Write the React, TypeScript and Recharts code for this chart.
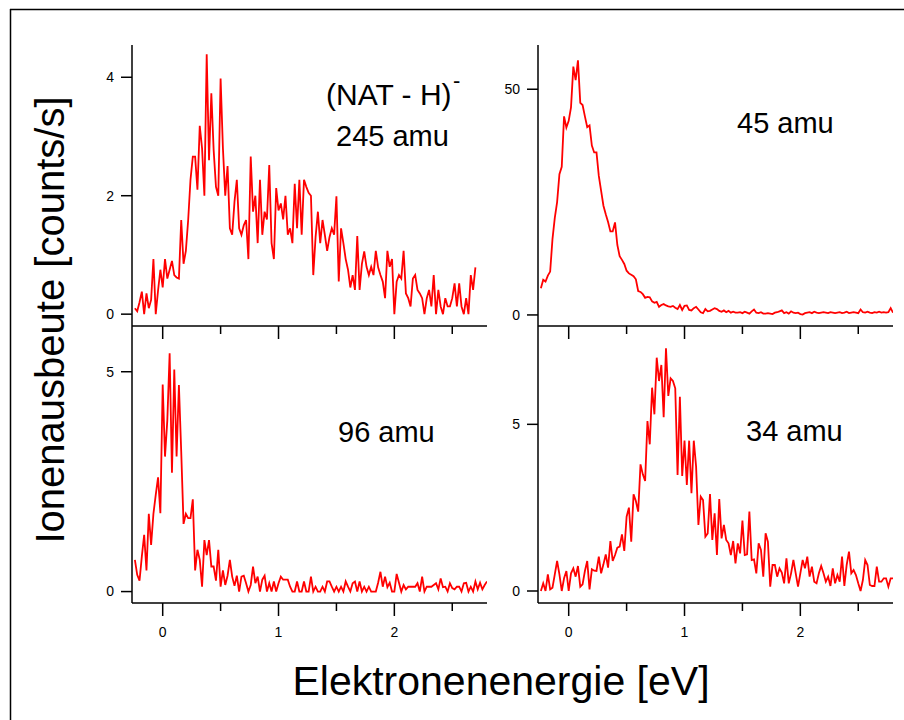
import React from "react";
import { LineChart, Line, XAxis, YAxis } from "recharts";

// electron energy grid (eV), 0.02 eV steps from -0.24 to 2.80
const ENERGY = Array.from({ length: 153 }, (_, i) => Math.round((-0.24 + 0.02 * i) * 100) / 100);

// (NAT - H)- 245 amu, counts/s (scan ends at 2.70 eV)
const NAT_245 = [
  0.1, 0.05, 0.2, 0.38, 0, 0.35, 0.1, 0.24, 0.93, 0,
  0.4, 0.75, 0.45, 0.93, 0.6, 0.75, 0.9, 0.66, 0.62, 0.6,
  1.59, 0.85, 1.07, 1.59, 2.27, 2.66, 2.66, 2.1, 3.18, 2.8,
  2.0, 4.39, 2.6, 3.73, 2.77, 2.15, 2.0, 3.98, 2.8, 2.0,
  2.5, 1.45, 1.34, 1.9, 2.27, 1.45, 1.34, 1.5, 1.59, 0.93,
  2.66, 1.73, 2.0, 1.2, 2.27, 1.34, 1.73, 1.6, 2.52, 1.2,
  0.93, 2.13, 1.75, 1.87, 1.6, 2.0, 1.34, 1.45, 1.2, 2.2,
  1.45, 2.27, 1.34, 2.27, 2.15, 2.05, 2.0, 0.66, 1.3, 1.73,
  1.2, 1.59, 1.34, 1.07, 1.3, 1.45, 1.34, 1.99, 0.55, 1.45,
  1.2, 0.93, 0.75, 0.45, 0.66, 0.41, 1.32, 0.41, 0.85, 1.06,
  0.8, 0.66, 0.8, 0.66, 1.07, 0.79, 0.66, 0.55, 0.27, 1.07,
  0.8, 0.93, 0, 0.55, 0.66, 0.6, 1.07, 0.35, 0.27, 0.13,
  0.6, 0.66, 0.41, 0.35, 0.27, 0, 0.27, 0.41, 0.13, 0.66,
  0, 0.41, 0.13, 0, 0.27, 0.13, 0.13, 0.27, 0.52, 0.13,
  0.52, 0.13, 0, 0.27, 0, 0.66, 0.41, 0.79,
];

// 45 amu
const AMU_45 = [
  5.9, 7.8, 7.4, 8.7, 9.6, 16.8, 21.5, 25, 31.2, 32.8,
  44, 41.5, 43, 46, 55, 52, 56.4, 47, 46.5, 44,
  41.6, 42, 37.5, 36, 36, 30.8, 27.5, 24.2, 22.3, 20.6,
  18.5, 18.5, 20.5, 15.5, 13, 12.2, 11.3, 9.8, 9.2, 8.9,
  8.6, 7.9, 5.3, 5.1, 4.6, 3.8, 4, 3.9, 3, 2.7,
  2.9, 1.8, 2.2, 2.4, 2.1, 1.9, 1.8, 2, 1.6, 1.3,
  2.2, 1.1, 2, 2.1, 1.1, 1, 1.5, 1.8, 1.2, 0.6,
  0.4, 1.3, 0.8, 0.9, 1.2, 1.5, 1.3, 0.9, 0.7, 1,
  0.6, 0.9, 0.5, 0.7, 0.5, 0.5, 0.6, 0.4, 0.7, 0.5,
  0.3, 0.8, 1.2, 0.5, 0.4, 0.6, 0.3, 0.3, 0.4, 0.3,
  0.2, 0.5, 0.6, 0.8, 1, 0.4, 0.6, 0.3, 0.8, 0.5,
  0.4, 0.5, 0.2, 0.1, 0.4, 0.5, 0.6, 0.4, 0.7, 0.5,
  0.4, 0.5, 0.6, 0.5, 0.4, 0.6, 0.5, 0.4, 0.5, 0.6,
  0.4, 0.5, 0.7, 0.4, 0.5, 0.6, 0.5, 0.4, 1.2, 0.6,
  0.5, 0.7, 0.5, 0.4, 0.6, 0.5, 0.7, 0.5, 0.6, 0.5,
  0.6, 1.5, 0.5,
];

// 96 amu
const AMU_96 = [
  0.72, 0.38, 0.25, 0.8, 1.29, 0.48, 1.77, 1.06, 1.77, 2.2,
  2.6, 1.78, 4.71, 3.07, 3.9, 5.42, 2.7, 5.05, 3.07, 4.7,
  3.18, 1.54, 1.77, 1.67, 1.67, 2.1, 0.48, 0.95, 0.72, 0.11,
  1.17, 0.83, 1.17, 0.57, 0.57, 0.25, 0.95, 0.11, 0.48, 0.15,
  0.36, 0.72, 0.34, 0.13, 0.36, 0, 0.34, 0.36, 0.19, 0,
  0.15, 0.57, 0.19, 0.34, 0, 0.27, 0.36, 0, 0.19, 0,
  0.23, 0, 0.19, 0.34, 0.27, 0.27, 0.27, 0.11, 0, 0,
  0.23, 0, 0, 0.23, 0, 0, 0.34, 0, 0.11, 0,
  0, 0.11, 0, 0.23, 0.23, 0.11, 0, 0.11, 0, 0.11,
  0, 0.23, 0.11, 0, 0.19, 0.23, 0, 0.23, 0, 0.11,
  0, 0.11, 0, 0, 0, 0.2, 0.45, 0.11, 0.34, 0.1,
  0.2, 0, 0, 0.4, 0.2, 0, 0.15, 0.05, 0.11, 0.11,
  0.11, 0.11, 0.19, 0, 0.34, 0, 0.11, 0.11, 0.11, 0.15,
  0.19, 0.05, 0.3, 0.1, 0.11, 0, 0.19, 0.08, 0.05, 0.11,
  0.11, 0, 0.19, 0.2, 0, 0.11, 0, 0.23, 0.05, 0.2,
  0.05, 0.15, 0.23,
];

// 34 amu
const AMU_34 = [
  0, 0.23, 0, 0.5, 0.05, 0.1, 0.5, 0.9, 0.5, 0,
  0.38, 0.6, 0, 0.53, 0.68, 0.43, 0.75, 0.13, 0.2, 0.6,
  0.9, 0.05, 0.65, 0.61, 0.6, 1.03, 0.53, 0.8, 1.1, 0.7,
  1.5, 0.9, 1.08, 1.3, 1.33, 1.7, 1.2, 2.23, 2.5, 1.48,
  2.9, 2.7, 2.38, 3.8, 3.5, 3.3, 5.1, 4.4, 6.1, 5.3,
  7, 6.3, 6.78, 5.21, 7.28, 5.85, 6.38, 6.3, 6.08, 3.48,
  5.83, 3.45, 4.51, 3.18, 4.51, 2.93, 4.51, 3.73, 1.98, 2.83,
  2.73, 1.63, 1.73, 2.91, 1.53, 2.33, 1.08, 2.76, 1.58, 1.98,
  1.53, 1.43, 1.08, 1.5, 0.83, 1.43, 1.13, 2.11, 1.08, 1.1,
  2.38, 0.93, 0.95, 0.53, 1.43, 1.23, 0.43, 1.73, 1.48, 0.13,
  0.78, 0.78, 0.43, 0.68, 0.55, 0.23, 0.98, 0.23, 0.53, 0.93,
  0.53, 0.13, 0.53, 0.93, 0.68, 1.03, 0.43, 0.73, 0.28, 0.23,
  0.53, 0.75, 0.53, 0.28, 0.43, 0.15, 0.68, 0.23, 0.48, 0.28,
  1.03, 0.15, 0.78, 1.18, 0.53, 0.63, 0.48, 0.23, 0, 0.33,
  0.93, 0.78, 0.18, 0.15, 0.15, 0.73, 0.28, 0.28, 0.38, 0.38,
  0.13, 0.38, 0.38,
];

const X_DOMAIN = [-0.265, 2.8];
const X_TICKS = [0, 0.5, 1, 1.5, 2, 2.5];

const FONT = '"Liberation Sans", Arial, sans-serif';
const RED = "#ff0000";
const AXIS = { stroke: "#000", strokeWidth: 1.5 };

const rows = ENERGY.map((e, i) => ({
  e,
  nat: NAT_245[i] ?? null,
  a45: AMU_45[i] ?? null,
  a96: AMU_96[i] ?? null,
  a34: AMU_34[i] ?? null,
}));

function XTick({ x, y, payload, showLabel }: any) {
  const major = Number.isInteger(payload.value);
  return (
    <g>
      <line x1={x} y1={y} x2={x} y2={y + (major ? 13 : 8)} stroke="#000" strokeWidth={1.5} />
      {showLabel && major && (
        <text x={x} y={y + 34} textAnchor="middle" fontSize={14} fontFamily={FONT} fill="#000">
          {payload.value}
        </text>
      )}
    </g>
  );
}

function YTick({ x, y, payload }: any) {
  return (
    <g>
      <line x1={x - 11} y1={y} x2={x} y2={y} stroke="#000" strokeWidth={1.5} />
      <text x={x - 18} y={y} dy="0.35em" textAnchor="end" fontSize={14} fontFamily={FONT} fill="#000">
        {payload.value}
      </text>
    </g>
  );
}

function Panel({ left, top, w, h, dataKey, yDomain, yTicks, xLabels }: any) {
  const ml = 60;
  const mt = 10;
  const mr = 13;
  const mb = 50;
  return (
    <div style={{ position: "absolute", left: left - ml, top: top - mt }}>
      <LineChart
        width={w + ml + mr}
        height={h + mt + mb}
        data={rows}
        margin={{ top: mt, right: mr, bottom: 0, left: 0 }}
      >
        <XAxis
          dataKey="e"
          type="number"
          domain={X_DOMAIN}
          ticks={X_TICKS}
          allowDataOverflow
          interval={0}
          height={mb}
          tickSize={0}
          tickMargin={0}
          tickLine={false}
          axisLine={AXIS}
          tick={(p: any) => <XTick {...p} showLabel={xLabels} />}
        />
        <YAxis
          type="number"
          domain={yDomain}
          ticks={yTicks}
          allowDataOverflow
          interval={0}
          width={ml}
          tickSize={0}
          tickMargin={0}
          tickLine={false}
          axisLine={AXIS}
          tick={(p: any) => <YTick {...p} />}
        />
        <Line
          type="linear"
          dataKey={dataKey}
          stroke={RED}
          strokeWidth={1.8}
          dot={false}
          isAnimationActive={false}
        />
      </LineChart>
    </div>
  );
}

export default function App() {
  return (
    <div style={{ position: "relative", width: 904, height: 720, background: "#fff", overflow: "hidden", fontFamily: FONT }}>
      <style>{"body{margin:0}"}</style>
      <Panel left={132} top={45} w={355} h={281} dataKey="nat" yDomain={[-0.2, 4.545]} yTicks={[0, 2, 4]} xLabels={false} />
      <Panel left={538} top={45} w={355} h={281} dataKey="a45" yDomain={[-2.45, 59.8]} yTicks={[0, 50]} xLabels={false} />
      <Panel left={132} top={326} w={355} h={277} dataKey="a96" yDomain={[-0.26, 6.04]} yTicks={[0, 5]} xLabels />
      <Panel left={538} top={326} w={355} h={277} dataKey="a34" yDomain={[-0.36, 7.95]} yTicks={[0, 5]} xLabels />
      <svg width={904} height={720} style={{ position: "absolute", left: 0, top: 0, pointerEvents: "none" }}>
        <line x1={10.5} y1={9} x2={10.5} y2={720} stroke="#000" strokeWidth={1.5} />
        <line x1={10} y1={9.5} x2={904} y2={9.5} stroke="#000" strokeWidth={1.5} />
        <g fontFamily={FONT} fill="#000">
          <text x={326} y={105} fontSize={30}>(NAT - H)</text>
          <text x={453} y={88} fontSize={22}>-</text>
          <text x={336} y={146} fontSize={29}>245 amu</text>
          <text x={737} y={133} fontSize={29}>45 amu</text>
          <text x={338} y={442} fontSize={29}>96 amu</text>
          <text x={746} y={441} fontSize={29}>34 amu</text>
          <text x={501} y={695} fontSize={41} textAnchor="middle">Elektronenenergie [eV]</text>
          <text x={0} y={0} fontSize={40} textAnchor="middle" transform="translate(64 320) rotate(-90)">
            Ionenausbeute [counts/s]
          </text>
        </g>
      </svg>
    </div>
  );
}
